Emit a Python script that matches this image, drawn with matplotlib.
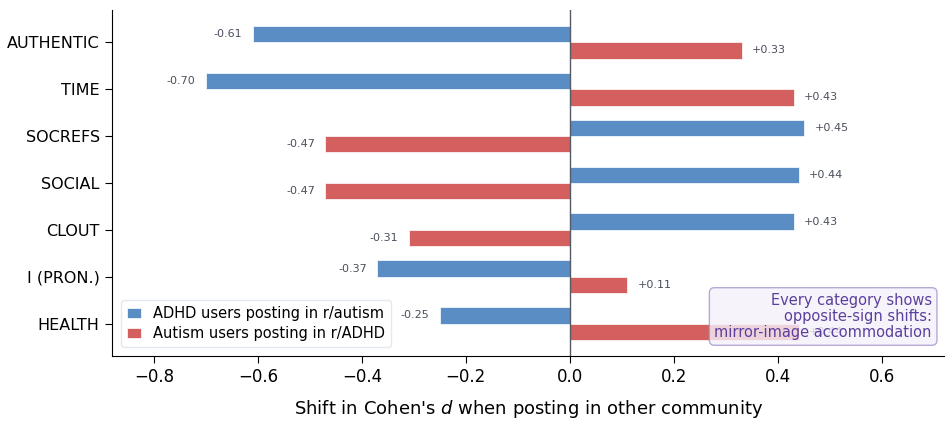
import matplotlib.pyplot as plt
import numpy as np

categories = ["AUTHENTIC", "TIME", "SOCREFS", "SOCIAL", "CLOUT", "I (PRON.)", "HEALTH"]
adhd_in_autism = [-0.61, -0.70, 0.45, 0.44, 0.43, -0.37, -0.25]
autism_in_adhd = [0.33, 0.43, -0.47, -0.47, -0.31, 0.11, 0.44]

blue = "#5a8dc4"
red = "#d45f5f"

fig = plt.figure(figsize=(9.51, 4.22), dpi=100)
ax = fig.add_axes([0.118, 0.157, 0.875, 0.819])

y = np.arange(len(categories))
h = 0.35
ax.barh(y - h / 2, adhd_in_autism, height=h, color=blue, edgecolor="white", linewidth=0.5,
        label="ADHD users posting in r/autism")
ax.barh(y + h / 2, autism_in_adhd, height=h, color=red, edgecolor="white", linewidth=0.5,
        label="Autism users posting in r/ADHD")

# value labels at bar ends
for yy, vals in ((y - h / 2, adhd_in_autism), (y + h / 2, autism_in_adhd)):
    for yi, v in zip(yy, vals):
        off = 0.02 if v > 0 else -0.02
        ax.text(v + off, yi, f"{v:+.2f}", va="center", ha="left" if v > 0 else "right",
                fontsize=8, color="#4a4f5c")

ax.axvline(0, color="#555b66", linewidth=1.0)
ax.set_yticks(y)
ax.set_yticklabels(categories, fontsize=11.5)
ax.invert_yaxis()
ax.set_xlim(-0.88, 0.72)
ax.tick_params(axis="y", length=5, pad=4)
ax.tick_params(axis="x", labelsize=12, length=5)
ax.set_xlabel("Shift in Cohen's $d$ when posting in other community", fontsize=13, labelpad=9)
ax.spines["top"].set_visible(False)
ax.spines["right"].set_visible(False)

ax.legend(loc="lower left", fontsize=10.5, frameon=True, framealpha=0.8, edgecolor="#dde3ee",
          handlelength=1.0, labelspacing=0.35, borderaxespad=0.6)

ax.text(0.985, 0.045, "Every category shows\nopposite-sign shifts:\nmirror-image accommodation",
        transform=ax.transAxes, ha="right", va="bottom", fontsize=10.5, color="#5b3f9e",
        linespacing=1.1,
        bbox=dict(boxstyle="round,pad=0.35", facecolor="#f5f1fb", edgecolor="#a594cf", alpha=0.8))

plt.savefig("out.png", dpi=100)
